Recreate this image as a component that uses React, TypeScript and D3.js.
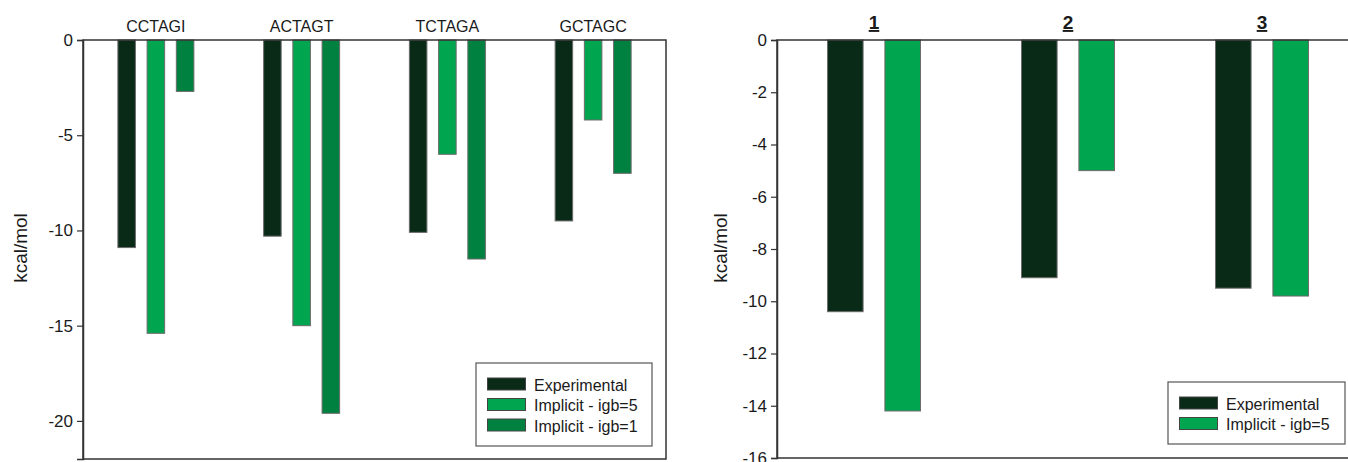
import React, { useEffect, useRef } from 'react';
import * as d3 from 'd3';

// left panel: sequences
const seqCategories = ['CCTAGI', 'ACTAGT', 'TCTAGA', 'GCTAGC'];
const seqExperimental = [-10.9, -10.3, -10.1, -9.5];
const seqIgb5 = [-15.4, -15.0, -6.0, -4.2];
const seqIgb1 = [-2.7, -19.6, -11.5, -7.0];
const seqTicks = [0, -5, -10, -15, -20];

// right panel: compounds
const cmpCategories = ['1', '2', '3'];
const cmpExperimental = [-10.4, -9.1, -9.5];
const cmpIgb5 = [-14.2, -5.0, -9.8];
const cmpTicks = [0, -2, -4, -6, -8, -10, -12, -14, -16];

const seriesNames = ['Experimental', 'Implicit - igb=5', 'Implicit - igb=1'];
const seriesColors = ['#0a2a18', '#00a550', '#00813f'];

const FONT = '"Liberation Sans", Arial, sans-serif';

const drawPanel = (root, opts) => {
  const { left, right, top, bottom, yMin, ticks, categories, series, groupSpan, padInner, labelBold, legend } = opts;

  const g = root.append('g');

  const x0 = d3.scaleBand().domain(categories).range([left, right]).padding(0);
  const y = d3.scaleLinear().domain([yMin, 0]).range([bottom, top]);

  // bars
  categories.forEach((cat, ci) => {
    const cx = x0(cat) + x0.bandwidth() / 2;
    const x1 = d3
      .scaleBand()
      .domain(series.map((s, i) => i))
      .range([cx - groupSpan / 2, cx + groupSpan / 2])
      .paddingInner(padInner)
      .paddingOuter(0);
    series.forEach((s, si) => {
      const v = s[ci];
      g.append('rect')
        .attr('x', x1(si))
        .attr('y', y(0))
        .attr('width', x1.bandwidth())
        .attr('height', y(v) - y(0))
        .attr('fill', seriesColors[si])
        .attr('stroke', '#6b6b6b')
        .attr('stroke-width', 1);
    });

    // category label on top
    const t = g
      .append('text')
      .attr('x', cx)
      .attr('y', labelBold ? 29 : 32)
      .attr('text-anchor', 'middle')
      .attr('font-family', FONT)
      .attr('font-size', labelBold ? 19 : 16)
      .attr('font-weight', labelBold ? 'bold' : 'normal')
      .attr('fill', '#1a1a1a')
      .text(cat);
    if (labelBold) t.style('text-decoration', 'underline');
  });

  // frame
  g.append('rect')
    .attr('x', left)
    .attr('y', top)
    .attr('width', right - left)
    .attr('height', bottom - top)
    .attr('fill', 'none')
    .attr('stroke', '#333')
    .attr('stroke-width', 1.5);

  // y axis
  const axis = d3
    .axisLeft(y)
    .tickValues(ticks)
    .tickSize(6)
    .tickPadding(4)
    .tickFormat(d3.format('d'));
  const ag = g.append('g').attr('transform', `translate(${left},0)`).call(axis);
  ag.select('.domain').attr('stroke', '#333').attr('stroke-width', 1.5);
  ag.selectAll('.tick line').attr('stroke', '#333').attr('stroke-width', 1.2);
  ag.selectAll('.tick text')
    .attr('font-family', FONT)
    .attr('font-size', 17)
    .attr('fill', '#1a1a1a')
    .text(d => (d === 0 ? '0' : String(d)).replace('−', '-'));

  // y label
  g.append('text')
    .attr('transform', `translate(${opts.yLabelX},${opts.yLabelY}) rotate(-90)`)
    .attr('text-anchor', 'middle')
    .attr('font-family', FONT)
    .attr('font-size', 19)
    .attr('fill', '#1a1a1a')
    .text('kcal/mol');

  // legend
  const lg = g.append('g');
  lg.append('rect')
    .attr('x', legend.x)
    .attr('y', legend.y)
    .attr('width', legend.w)
    .attr('height', legend.h)
    .attr('fill', '#fff')
    .attr('stroke', '#555')
    .attr('stroke-width', 1.2);
  series.forEach((s, si) => {
    const ry = legend.firstRow + si * 20.5;
    lg.append('rect')
      .attr('x', legend.x + 11.5)
      .attr('y', ry)
      .attr('width', 38)
      .attr('height', 12)
      .attr('fill', seriesColors[si])
      .attr('stroke', '#444')
      .attr('stroke-width', 1);
    lg.append('text')
      .attr('x', legend.x + 58)
      .attr('y', ry + 12.5)
      .attr('font-family', FONT)
      .attr('font-size', 16)
      .attr('fill', '#1a1a1a')
      .text(seriesNames[si]);
  });
};

const App = () => {
  const ref = useRef(null);

  useEffect(() => {
    const svg = d3.select(ref.current);
    svg.selectAll('*').remove();

    drawPanel(svg, {
      left: 83,
      right: 666,
      top: 40,
      bottom: 459,
      yMin: -22,
      ticks: seqTicks,
      categories: seqCategories,
      series: [seqExperimental, seqIgb5, seqIgb1],
      groupSpan: 76,
      padInner: 0.4,
      labelBold: false,
      yLabelX: 27,
      yLabelY: 248,
      legend: { x: 476, y: 363, w: 176, h: 83, firstRow: 378 },
    });

    drawPanel(svg, {
      left: 777,
      right: 1359,
      top: 40,
      bottom: 458,
      yMin: -16,
      ticks: cmpTicks,
      categories: cmpCategories,
      series: [cmpExperimental, cmpIgb5],
      groupSpan: 93,
      padInner: 0.38,
      labelBold: true,
      yLabelX: 727,
      yLabelY: 248,
      legend: { x: 1168, y: 382, w: 177, h: 62, firstRow: 397 },
    });
  }, []);

  return (
    <div style={{ position: 'absolute', left: 0, top: 0, background: '#fff' }}>
      <svg ref={ref} width={1348} height={462} style={{ display: 'block', overflow: 'hidden' }} />
    </div>
  );
};

export default App;
